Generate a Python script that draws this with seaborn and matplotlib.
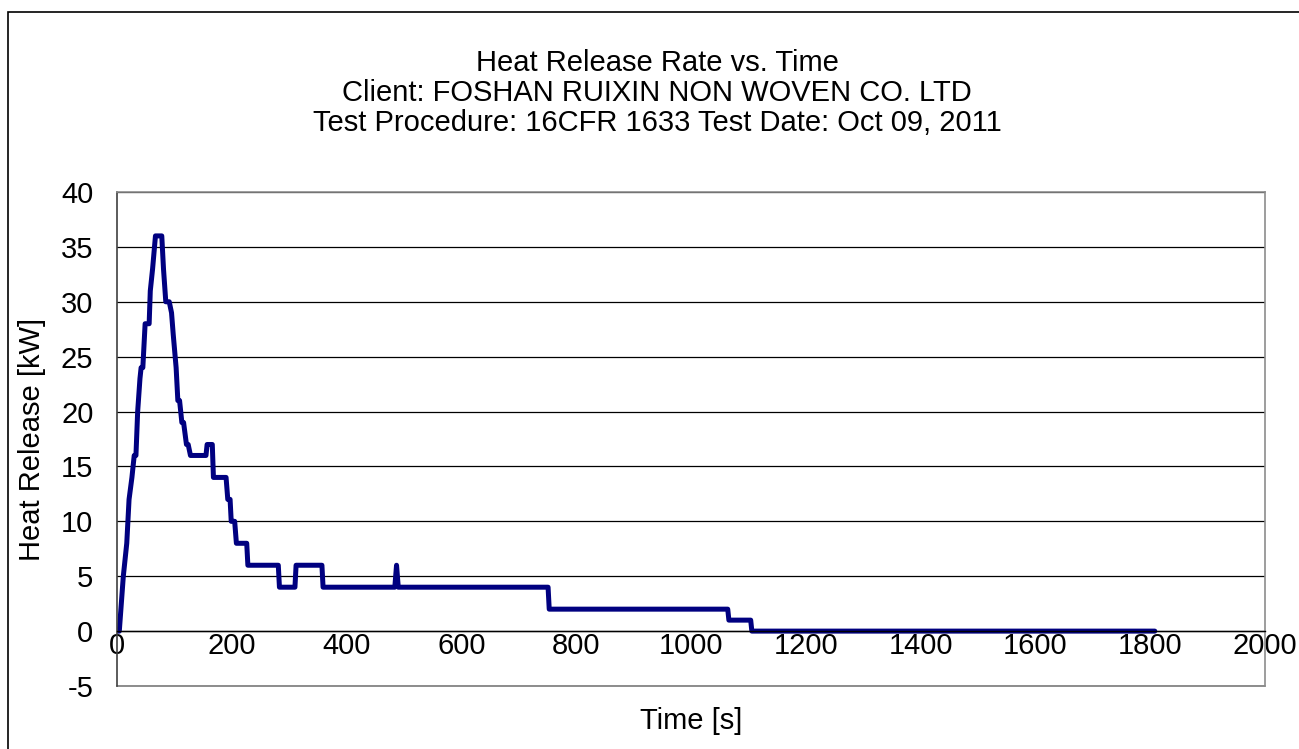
import numpy as np
import pandas as pd
import matplotlib
matplotlib.use('Agg')
import matplotlib.pyplot as plt
from matplotlib.patches import Rectangle
import seaborn as sns

# Heat release readings (time in s, HRR in kW)
time_s = [0, 4, 11, 17, 21, 26, 30, 33, 36, 40, 42, 45, 49, 56, 58, 62, 67, 78,
          81, 85, 91, 95, 98, 103, 106, 109, 113, 116, 121, 124, 128, 155, 157,
          166, 168, 190, 193, 197, 199, 205, 208, 226, 228, 281, 283, 310, 312,
          357, 359, 484, 487, 490, 751, 753, 1064, 1066, 1104, 1106, 1808]
hrr_kw = [0, 0, 5, 8, 12, 14, 16, 16, 20, 23, 24, 24, 28, 28, 31, 33, 36, 36,
          33, 30, 30, 29, 27, 24, 21, 21, 19, 19, 17, 17, 16, 16, 17,
          17, 14, 14, 12, 12, 10, 10, 8, 8, 6, 6, 4, 4, 6,
          6, 4, 4, 6, 4, 4, 2, 2, 1, 1, 0, 0]

title_lines = ["Heat Release Rate vs. Time",
               "Client: FOSHAN RUIXIN NON WOVEN CO. LTD",
               "Test Procedure: 16CFR 1633 Test Date: Oct 09, 2011"]
x_ticks = list(range(0, 2001, 200))
y_ticks = list(range(-5, 41, 5))

df = pd.DataFrame({'Time': time_s, 'HRR': hrr_kw})

sns.set_style("white")
plt.rcParams['font.family'] = ['Liberation Sans', 'DejaVu Sans']
plt.rcParams['text.color'] = 'black'
plt.rcParams['axes.labelcolor'] = 'black'
plt.rcParams['axes.unicode_minus'] = False

FS = 21

W, H = 1299, 749
fig = plt.figure(figsize=(W / 100, H / 100), dpi=100)
ax = fig.add_axes([117 / W, 1 - 686 / H, (1265 - 117) / W, (686 - 192) / H])

# outer chart frame
fig.patches.append(Rectangle((8 / W, -0.1), 1.2, 1 - 12 / H + 0.1,
                             transform=fig.transFigure, fill=False,
                             edgecolor='black', linewidth=1.2))

sns.lineplot(data=df, x='Time', y='HRR', ax=ax, color='#000080',
             linewidth=3.6, estimator=None, sort=False)

ax.set_xlim(0, 2000)
ax.set_ylim(-5, 40)
ax.set_xticks(x_ticks)
ax.set_yticks(y_ticks)
ax.yaxis.grid(True, color='black', linewidth=0.9)
ax.xaxis.grid(False)
ax.set_axisbelow(True)

for side in ['top', 'right']:
    ax.spines[side].set_color('#8c8c8c')
    ax.spines[side].set_linewidth(1.2)
ax.spines['left'].set_color('#404040')
ax.spines['left'].set_linewidth(1.2)
ax.spines['bottom'].set_position(('data', 0))
ax.spines['bottom'].set_color('black')
ax.spines['bottom'].set_linewidth(1.0)
ax.plot([0, 1], [0, 0], transform=ax.transAxes, color='#8c8c8c',
        linewidth=1.4, clip_on=False)

ax.tick_params(axis='x', direction='in', length=6, width=1, pad=1,
               labelsize=FS, colors='black')
ax.tick_params(axis='y', direction='in', length=3, width=1, pad=17,
               labelsize=FS, colors='black')

ax.set_xlabel('Time [s]', fontsize=FS)
ax.set_ylabel('Heat Release [kW]', fontsize=FS)
ax.xaxis.set_label_coords(0.5, -0.043)
ax.yaxis.set_label_coords(-0.062, 0.5)

for i, line in enumerate(title_lines):
    fig.text(657 / W, 1 - (63 + 30 * i) / H, line, ha='center', va='center',
             fontsize=FS)

fig.savefig('out.png', dpi=100)
